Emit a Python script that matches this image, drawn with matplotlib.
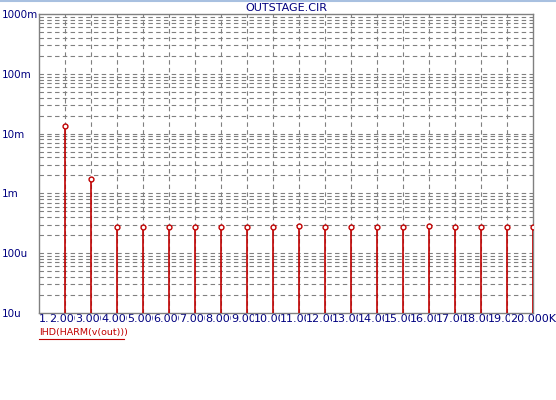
import matplotlib.pyplot as plt

# harmonic number (x1K) and IHD values
harmonics = list(range(2, 21))
ihd = [13.6e-3, 1.73e-3, 2.75e-4, 2.75e-4, 2.75e-4, 2.75e-4, 2.75e-4, 2.75e-4,
       2.75e-4, 2.8e-4, 2.75e-4, 2.75e-4, 2.75e-4, 2.75e-4, 2.8e-4, 2.75e-4,
       2.75e-4, 2.75e-4, 2.75e-4]
xticks = list(range(1, 21))
xlabels = ['1.'] + ['%d.000' % n for n in range(2, 20)] + ['20.000K']
yticks = [1e-5, 1e-4, 1e-3, 1e-2, 1e-1, 1]
ylabels = ['10u', '100u', '1m', '10m', '100m', '1000m']

navy = '#000080'
red = '#c00000'
grid = '#808080'

W, H = 556, 400
fig = plt.figure(figsize=(W / 100, H / 100), dpi=100)
axis = fig.add_axes([39 / W, 1 - 313 / H, (533 - 39) / W, (313 - 14) / H])
axis.set_yscale('log')
axis.set_xlim(1, 20)
axis.set_ylim(1e-5, 1)

# dashed grid at every decade step and every 1K
dash = (0, (4, 3))
for dec in yticks[:-1]:
    for m in range(1, 10):
        if dec * m > 1e-5:
            axis.axhline(dec * m, color=grid, linestyle=dash, linewidth=0.8, zorder=1)
for x in xticks[1:-1]:
    axis.axvline(x, color=grid, linestyle=dash, linewidth=0.8, zorder=1)

axis.vlines(harmonics, 1e-5, ihd, color=red, linewidth=1.2, zorder=3)
axis.plot(harmonics, ihd, linestyle='none', marker='o', markersize=3.5,
          markerfacecolor='white', markeredgecolor=red, markeredgewidth=1, zorder=4)

for s in axis.spines.values():
    s.set_color(grid)
    s.set_linewidth(1)

axis.set_yticks(yticks)
axis.set_yticklabels(ylabels)
axis.yaxis.set_minor_locator(plt.NullLocator())
# pad in points: labels start 2 px from the left edge
axis.tick_params(axis='y', length=0, pad=37 * 0.72, labelcolor=navy, labelsize=7.5)
for lbl in axis.get_yticklabels():
    lbl.set_horizontalalignment('left')

axis.set_xticks(xticks)
axis.set_xticklabels(xlabels)
axis.tick_params(axis='x', length=0, pad=1, labelcolor=navy, labelsize=8)
for i, lbl in enumerate(axis.get_xticklabels()):
    if i == 0:
        lbl.set_horizontalalignment('left')
    lbl.set_bbox(dict(facecolor='white', edgecolor='none', pad=0))

fig.text(286 / W, 1 - 8 / H, 'OUTSTAGE.CIR', color=navy, fontsize=8,
         ha='center', va='center')
fig.add_artist(plt.Line2D([0, 1], [1 - 0.5 / H, 1 - 0.5 / H], color='#a8c0e0', linewidth=1.5))
fig.text(39 / W, 1 - 333 / H, 'IHD(HARM(v(out)))', color=red, fontsize=6.8,
         ha='left', va='center')
fig.add_artist(plt.Line2D([39 / W, 124 / W], [1 - 338.5 / H, 1 - 338.5 / H], color=red, linewidth=0.8))

fig.savefig('out.png', dpi=100)
